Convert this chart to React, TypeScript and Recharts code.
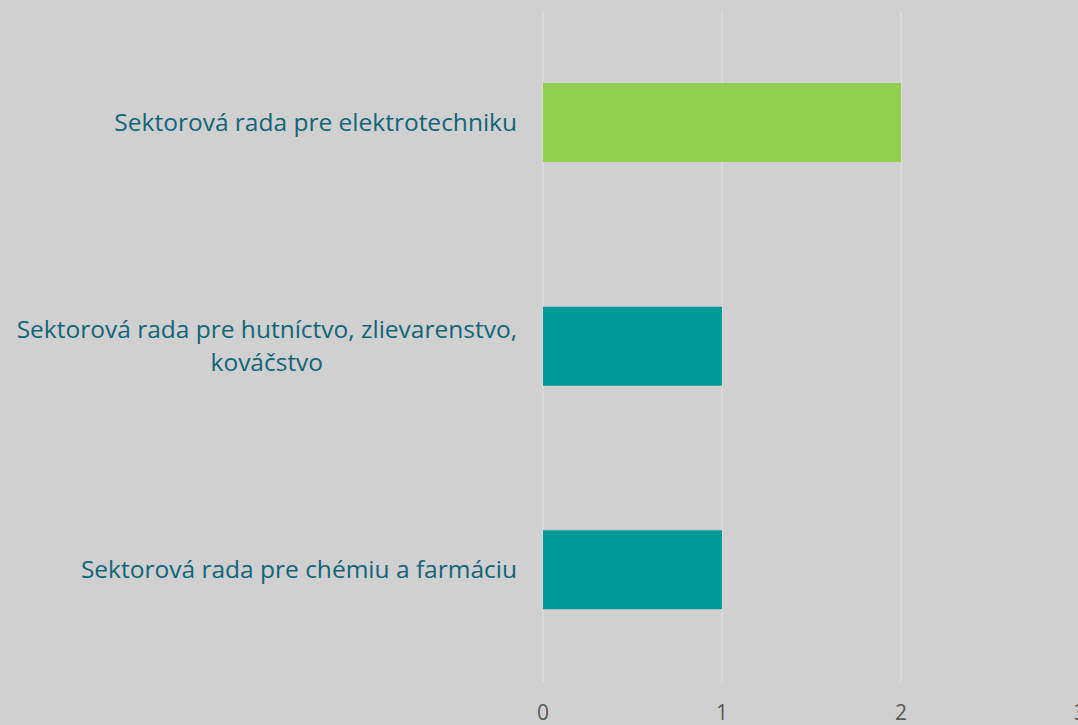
import { Bar, BarChart, CartesianGrid, Cell, XAxis, YAxis } from "recharts";

const categories = [
  "Sektorová rada pre elektrotechniku",
  "Sektorová rada pre hutníctvo, zlievarenstvo, kováčstvo",
  "Sektorová rada pre chémiu a farmáciu",
];
const values = [2, 1, 1];
const xTicks = [0, 1, 2, 3];
const barColors = ["#92d050", "#009999", "#009999"];

const data = categories.map((name, i) => ({ name, value: values[i] }));

const FONT = "'Open Sans', sans-serif";
const LABEL_SIZE = 24.5;

let ctx: CanvasRenderingContext2D | null = null;
function measure(s: string) {
  if (!ctx) ctx = document.createElement("canvas").getContext("2d");
  if (!ctx) return s.length * LABEL_SIZE * 0.5;
  ctx.font = `${LABEL_SIZE}px 'Open Sans'`;
  return ctx.measureText(s).width;
}

function wrap(text: string, maxWidth: number) {
  const words = text.split(" ");
  const lines: string[] = [];
  let cur = "";
  for (const w of words) {
    const next = cur ? cur + " " + w : w;
    if (cur && measure(next) > maxWidth) {
      lines.push(cur);
      cur = w;
    } else {
      cur = next;
    }
  }
  if (cur) lines.push(cur);
  return lines;
}

function CategoryTick(props: any) {
  const { x, y, payload } = props;
  const lines = wrap(payload.value, 515);
  const box = Math.max(...lines.map(measure));
  const cx = x - box / 2;
  const lh = 33;
  const top = y - ((lines.length - 1) * lh) / 2;
  return (
    <text textAnchor="middle" fill="#106577" fontSize={LABEL_SIZE} fontFamily={FONT}>
      {lines.map((l, i) => (
        <tspan key={i} x={cx} y={top + i * lh} dy="0.33em">
          {l}
        </tspan>
      ))}
    </text>
  );
}

export default function App() {
  return (
    <div
      style={{
        position: "absolute",
        left: 0,
        top: 0,
        width: 1078,
        height: 725,
        overflow: "hidden",
        background: "#d0d0d0",
      }}
    >
      <BarChart
        width={1081}
        height={725}
        data={data}
        layout="vertical"
        margin={{ top: 11, right: 1, bottom: 0, left: 0 }}
      >
        <CartesianGrid horizontal={false} stroke="#dcdcdc" strokeWidth={1.5} />
        <XAxis
          type="number"
          domain={[0, 3]}
          ticks={xTicks}
          axisLine={false}
          tickLine={false}
          tickSize={0}
          tickMargin={23}
          height={43}
          interval={0}
          tick={{ fill: "#595959", fontSize: 21, fontFamily: FONT }}
        />
        <YAxis
          type="category"
          dataKey="name"
          width={543}
          axisLine={false}
          tickLine={false}
          tickSize={0}
          tickMargin={26}
          tick={<CategoryTick />}
        />
        <Bar dataKey="value" barSize={79} isAnimationActive={false}>
          {data.map((d, i) => (
            <Cell key={d.name} fill={barColors[i]} />
          ))}
        </Bar>
      </BarChart>
    </div>
  );
}
